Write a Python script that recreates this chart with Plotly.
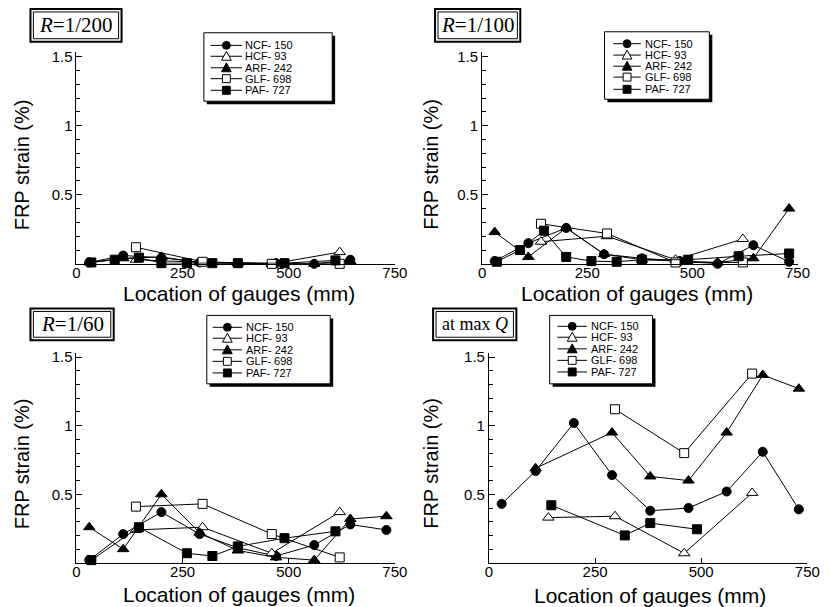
import plotly.graph_objects as go

W, H = 836, 607

# ---------------- data ----------------
SERIES = ["NCF- 150", "HCF- 93", "ARF- 242", "GLF- 698", "PAF- 727"]

X_NCF = [30, 110, 200, 290, 380, 470, 560, 645, 730]
X_HCF = [140, 297, 460, 620]
X_ARF = [30, 110, 200, 290, 380, 470, 560, 645, 730]
X_GLF = [140, 297, 460, 620]
X_PAF = [35, 90, 147, 200, 260, 320, 380, 490, 610, 730]

# R = 1/200
R200_NCF = [0.01, 0.06, 0.045, 0.01, 0.005, 0.005, 0.0, 0.03, None]
R200_HCF = [0.03, 0.01, 0.0, 0.085]
R200_ARF = [0.01, 0.04, 0.05, 0.01, 0.005, 0.005, 0.0, 0.02, None]
R200_GLF = [0.12, 0.015, 0.0, 0.0]
R200_PAF = [0.01, 0.03, 0.045, 0.005, 0.005, 0.005, 0.005, 0.005, 0.025, None]

# R = 1/100
R100_NCF = [0.02, 0.15, 0.26, 0.07, 0.04, 0.02, 0.0, 0.135, 0.015]
R100_HCF = [0.16, 0.20, 0.03, 0.18]
R100_ARF = [0.23, 0.05, 0.26, 0.07, 0.03, 0.02, 0.01, 0.04, 0.40]
R100_GLF = [0.29, 0.22, 0.01, 0.01]
R100_PAF = [0.015, 0.10, 0.24, 0.05, 0.02, 0.015, 0.03, 0.03, 0.055, 0.075]

# R = 1/60
R60_NCF = [0.02, 0.21, 0.37, 0.21, 0.11, 0.05, 0.13, 0.28, 0.24]
R60_HCF = [0.24, 0.26, 0.07, 0.37]
R60_ARF = [0.26, 0.10, 0.50, 0.22, 0.09, 0.04, 0.02, 0.32, 0.34]
R60_GLF = [0.41, 0.43, 0.21, 0.04]
R60_PAF = [0.02, None, 0.26, None, 0.07, 0.05, 0.12, 0.18, 0.23, None]

# at max Q
MQ_NCF = [0.43, 0.67, 1.02, 0.64, 0.38, 0.40, 0.52, 0.81, 0.39]
MQ_HCF = [0.33, 0.34, 0.07, 0.51]
MQ_ARF = [None, 0.69, None, 0.95, 0.63, 0.60, 0.95, 1.37, 1.27]
MQ_GLF = [None, 1.12, 0.80, 1.38]
MQ_PAF = [None, None, 0.42, None, None, 0.20, 0.29, 0.245, None, None]

X_TICKS = [0, 250, 500, 750]
Y_TICKS = [0.5, 1, 1.5]
Y_TICKTEXT = ["0.5", "1", "1.5"]

# ---------------- styling ----------------
SANS = "Liberation Sans, Arial, sans-serif"
SERIF = "Liberation Serif, Times New Roman, serif"
STYLES = [
    dict(symbol="circle", size=9, color="black", line=dict(color="black", width=1)),
    dict(symbol="triangle-up", size=10, color="white", line=dict(color="black", width=1)),
    dict(symbol="triangle-up", size=10, color="black", line=dict(color="black", width=1)),
    dict(symbol="square", size=9, color="white", line=dict(color="black", width=1)),
    dict(symbol="square", size=9, color="black", line=dict(color="black", width=1)),
]
XS = [X_NCF, X_HCF, X_ARF, X_GLF, X_PAF]
YMAX = 1.53

panels = [
    dict(ys=[R200_NCF, R200_HCF, R200_ARF, R200_GLF, R200_PAF],
         xpx=(74, 399), y0=261, scale=139.3, title="<i>R</i>=1/200", tsize=21,
         tbox=(27, 4, 120, 37), lbox=(204, 28, 335, 97), lline=(211, 243), lmx=227, ltx=244,
         lrows=[40.7, 51.7, 63.3, 74.3, 86], ytx=18, xtx=240, xty=291),
    dict(ys=[R100_NCF, R100_HCF, R100_ARF, R100_GLF, R100_PAF],
         xpx=(488, 810), y0=261, scale=139.3, title="<i>R</i>=1/100", tsize=21,
         tbox=(440, 4, 527, 37), lbox=(613, 27, 720, 95), lline=(622, 650), lmx=636, ltx=652,
         lrows=[39, 50.5, 61.7, 72.7, 85], ytx=436, xtx=646, xty=291),
    dict(ys=[R60_NCF, R60_HCF, R60_ARF, R60_GLF, R60_PAF],
         xpx=(74, 399), y0=562.5, scale=138.3, title="<i>R</i>=1/60", tsize=21,
         tbox=(27, 306, 112, 338), lbox=(207, 313, 333, 382), lline=(213, 243), lmx=228, ltx=245,
         lrows=[325, 336, 347.7, 359.3, 371], ytx=18, xtx=240, xty=594),
    dict(ys=[MQ_NCF, MQ_HCF, MQ_ARF, MQ_GLF, MQ_PAF],
         xpx=(495, 820), y0=562.5, scale=138.3, title="at max <i>Q</i>", tsize=18,
         tbox=(438, 306, 523, 338), lbox=(557, 313, 662, 382), lline=(565, 595), lmx=580, ltx=597,
         lrows=[324, 335, 346.7, 358.3, 370], ytx=436, xtx=659, xty=595),
]


def fx(px):
    return px / W


def fy(py):
    return 1 - py / H


fig = go.Figure()
shapes = []
annotations = []

for i, p in enumerate(panels, start=1):
    sx = "" if i == 1 else str(i)
    for k in range(5):
        st = STYLES[k]
        fig.add_trace(go.Scatter(
            x=XS[k], y=p["ys"][k], mode="lines+markers", name=SERIES[k],
            connectgaps=True, showlegend=False, cliponaxis=False,
            line=dict(color="black", width=1),
            marker=dict(symbol=st["symbol"], size=st["size"], color=st["color"], line=st["line"]),
            xaxis="x" + sx, yaxis="y" + sx,
        ))
    ytop = p["y0"] - YMAX * p["scale"]
    fig.layout["xaxis" + sx] = dict(
        domain=[fx(p["xpx"][0]), fx(p["xpx"][1])], anchor="y" + sx, range=[0, 750],
        tickmode="array", tickvals=X_TICKS, ticks="inside", ticklen=5, tickcolor="black",
        showline=True, linecolor="black", linewidth=1, showgrid=False, zeroline=False,
        ticklabelstandoff=-5,
        tickfont=dict(family=SANS, size=15, color="black"), fixedrange=True,
    )
    fig.layout["yaxis" + sx] = dict(
        domain=[fy(p["y0"]), fy(ytop)], anchor="x" + sx, range=[0, YMAX],
        tickmode="array", tickvals=Y_TICKS, ticktext=Y_TICKTEXT, ticks="inside", ticklen=6,
        tickcolor="black", showline=True, linecolor="black", linewidth=1, showgrid=False,
        zeroline=False, tickfont=dict(family=SANS, size=15, color="black"),
        minor=dict(tickmode="linear", tick0=0, dtick=0.1, ticks="inside", ticklen=4,
                   tickcolor="black", showgrid=False),
        fixedrange=True,
    )

    # title box (double frame)
    bx0, by0, bx1, by1 = p["tbox"]
    shapes.append(dict(type="rect", xref="paper", yref="paper", x0=fx(bx0), x1=fx(bx1),
                       y0=fy(by1), y1=fy(by0), line=dict(color="black", width=2),
                       fillcolor="white", layer="above"))
    shapes.append(dict(type="rect", xref="paper", yref="paper", x0=fx(bx0 + 3), x1=fx(bx1 - 3),
                       y0=fy(by1 - 3), y1=fy(by0 + 3), line=dict(color="black", width=1),
                       layer="above"))
    annotations.append(dict(text=p["title"], xref="paper", yref="paper",
                            x=fx((bx0 + bx1) / 2), y=fy((by0 + by1) / 2),
                            xanchor="center", yanchor="middle", showarrow=False,
                            font=dict(family=SERIF, size=p["tsize"], color="black")))

    # axis titles
    annotations.append(dict(text="FRP strain (%)", xref="paper", yref="paper",
                            x=fx(p["ytx"]), y=fy(p["y0"] - 100), textangle=-90,
                            xanchor="center", yanchor="middle", showarrow=False,
                            font=dict(family=SANS, size=20, color="black")))
    annotations.append(dict(text="Location of gauges (mm)", xref="paper", yref="paper",
                            x=fx(p["xtx"]), y=fy(p["xty"]),
                            xanchor="center", yanchor="middle", showarrow=False,
                            font=dict(family=SANS, size=21, color="black")))

    # legend box with shadow
    lx0, ly0, lx1, ly1 = p["lbox"]
    shapes.append(dict(type="rect", xref="paper", yref="paper", x0=fx(lx0 + 3), x1=fx(lx1 + 3),
                       y0=fy(ly1 + 3), y1=fy(ly0 + 3), line=dict(width=0),
                       fillcolor="black", layer="above"))
    shapes.append(dict(type="rect", xref="paper", yref="paper", x0=fx(lx0), x1=fx(lx1),
                       y0=fy(ly1), y1=fy(ly0), line=dict(color="black", width=1),
                       fillcolor="white", layer="above"))
    for k, ry in enumerate(p["lrows"]):
        shapes.append(dict(type="line", xref="paper", yref="paper",
                           x0=fx(p["lline"][0]), x1=fx(p["lline"][1]), y0=fy(ry), y1=fy(ry),
                           line=dict(color="black", width=1), layer="above"))
        cx = p["lmx"]
        fill = STYLES[k]["color"]
        sym = STYLES[k]["symbol"]
        if sym == "circle":
            shapes.append(dict(type="circle", xref="paper", yref="paper",
                               x0=fx(cx - 4), x1=fx(cx + 4), y0=fy(ry + 4), y1=fy(ry - 4),
                               fillcolor=fill, line=dict(color="black", width=1), layer="above"))
        elif sym == "square":
            shapes.append(dict(type="rect", xref="paper", yref="paper",
                               x0=fx(cx - 4), x1=fx(cx + 4), y0=fy(ry + 4), y1=fy(ry - 4),
                               fillcolor=fill, line=dict(color="black", width=1), layer="above"))
        else:
            path = "M {:.5f},{:.5f} L {:.5f},{:.5f} L {:.5f},{:.5f} Z".format(
                fx(cx - 5), fy(ry + 4), fx(cx + 5), fy(ry + 4), fx(cx), fy(ry - 5))
            shapes.append(dict(type="path", xref="paper", yref="paper", path=path,
                               fillcolor=fill, line=dict(color="black", width=1), layer="above"))
        annotations.append(dict(text=SERIES[k], xref="paper", yref="paper",
                                x=fx(p["ltx"]), y=fy(ry), xanchor="left", yanchor="middle",
                                showarrow=False,
                                font=dict(family=SANS, size=11, color="black")))

fig.update_layout(
    width=W, height=H, margin=dict(l=0, r=0, t=0, b=0),
    paper_bgcolor="white", plot_bgcolor="white", showlegend=False,
    shapes=shapes, annotations=annotations,
)

fig.write_html(
    "out.html",
    config={"displayModeBar": False},
    post_script="document.body.style.margin='0';document.body.style.overflow='hidden';",
)
